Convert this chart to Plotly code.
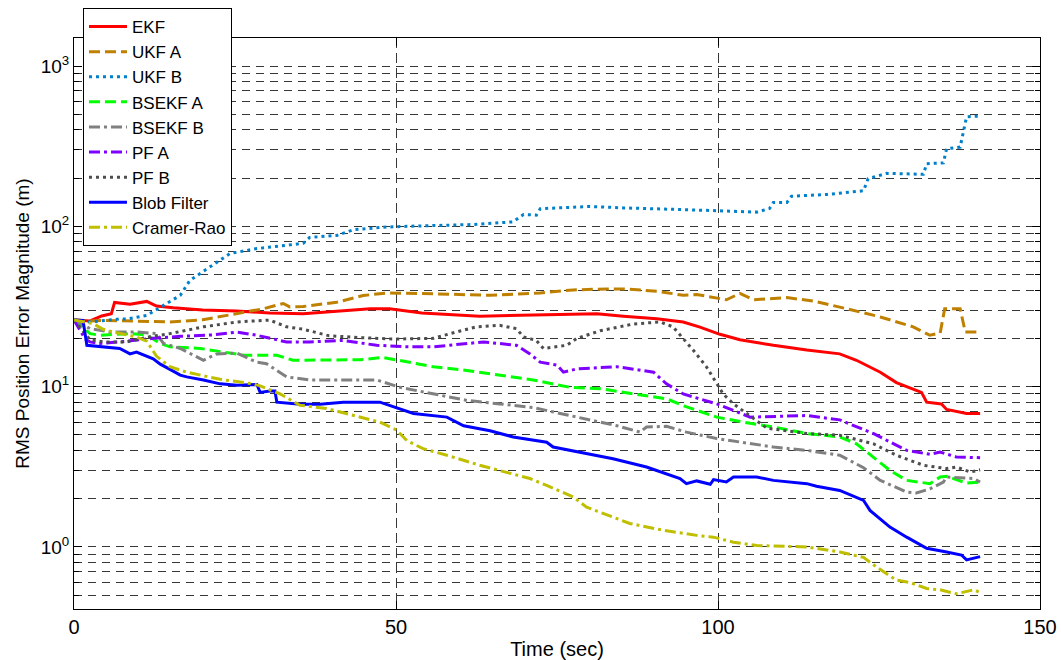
import plotly.graph_objects as go

# ---------------- data ----------------
ekf_x = [0, 2.5, 4.3, 5.8, 6.3, 8.7, 11.3, 12.8, 15.4, 20, 25.3, 30.4, 35.6, 40.8, 46, 49, 51, 54, 63, 69.7, 75, 81.2,
         85.3, 90.5, 94.6, 97.2, 100.3, 103.4, 108.6, 113.8, 118.9, 121.5, 125.2, 127.7, 131.6, 132.4, 134.7, 135.5,
         138.6, 140.7]
ekf_y = [26, 25.7, 27.6, 28.5, 33.5, 32.6, 34, 31.8, 31, 30.1, 29.6, 28.8, 28.5, 29.5, 30.6, 30.6, 29.8, 28.8, 27.5,
         27.8, 28.3, 28.5, 27.5, 26.5, 25.3, 23.5, 21.2, 19.6, 18.1, 16.9, 16.0, 14.6, 12.3, 10.6, 9.2, 8.0, 7.8, 7.2,
         6.8, 6.8]

ukfa_x = [0, 2.5, 4.5, 9.7, 14.9, 20, 25.3, 29.4, 32.5, 33.5, 35.6, 40.8, 44.9, 48.6, 54, 64.6, 72.4, 77.5, 82.8,
          85.3, 90.5, 94.6, 96.7, 99, 101.3, 103.4, 105.5, 110.7, 114.8, 120, 125.2, 130.3, 132.9, 134.5, 135.2, 137.6,
          138.4, 140.7]
ukfa_y = [26, 25.7, 25.9, 25.7, 25.3, 26.1, 28.5, 30.6, 33, 31.4, 31.6, 33.6, 37, 38.4, 38.1, 37.1, 38.4, 40.1, 40.7,
          40.7, 39.4, 37.1, 37.6, 36.2, 34.8, 38.1, 34.8, 35.9, 34.2, 30.6, 27.2, 23.6, 20.9, 21.6, 30.6, 30.6, 21.9,
          21.9]

ukfb_x = [0, 2.5, 7.1, 8.2, 11.3, 13.9, 16.5, 18, 21.1, 24.2, 28.4, 35.6, 36.6, 40.8, 43.4, 48.6, 51.7, 62, 68.2,
          69.8, 71.8, 72.4, 80.1, 85.3, 95.7, 99.8, 106, 108, 108.6, 110.7, 111.4, 116.9, 122.6, 123.3, 126.2, 131.9,
          132.4, 135, 135.5, 137.6, 138.1, 138.6, 140.7]
ukfb_y = [26, 25.3, 26.4, 26.4, 27.8, 32, 37.1, 46, 55.6, 67.6, 72.6, 78.3, 85.2, 87.7, 95.2, 99, 100, 102.6, 106.6,
          118.6, 117.4, 128.8, 133, 130.3, 126.7, 125, 122.6, 129, 141, 141, 154, 158, 166.6, 198, 214, 211, 246,
          248.6, 305, 312, 395, 482, 487]

bsekfa_x = [0, 2.5, 4, 8.7, 11.3, 13.4, 14.9, 19.6, 26.3, 31.5, 34, 44.4, 48, 52.2, 55.8, 61, 66.1, 71.3, 77, 81.7,
            86.9, 92, 94.6, 99.8, 105, 108.6, 113.8, 118.9, 121.5, 124.1, 126.7, 129.3, 132.9, 134.5, 135.5, 138.6,
            140.7]
bsekfa_y = [26, 21.4, 20.9, 21.4, 21, 18.6, 17.7, 17.3, 15.7, 15.7, 14.6, 14.7, 15.2, 14.2, 13.3, 12.6, 11.8, 11.0,
            9.9, 9.7, 9.0, 8.4, 7.6, 6.45, 5.9, 5.6, 5.1, 4.85, 4.4, 3.64, 3.0, 2.6, 2.48, 2.73, 2.76, 2.5, 2.54]

bsekfb_x = [0, 2.5, 5.6, 9.7, 12.8, 13.9, 16.5, 20.1, 22.2, 25.3, 28.4, 29.9, 33, 36.6, 41.8, 47, 50.6, 55.8, 61,
            66.1, 71.3, 75.5, 79.1, 84.3, 87.9, 88.9, 92, 95.1, 99.8, 105, 108.6, 113.8, 118.9, 122.6, 125.2, 129.3,
            130.8, 132.9, 135, 135.5, 139.7, 140.7]
bsekfb_y = [26, 23, 21.9, 21.9, 21.4, 18.6, 17.3, 14.6, 16, 16.2, 14.2, 13.9, 11.5, 11.0, 11.0, 11.0, 9.9, 9.0, 8.2,
            7.8, 7.4, 6.8, 6.3, 5.7, 5.2, 5.6, 5.65, 5.2, 4.74, 4.4, 4.2, 4.0, 3.73, 3.12, 2.6, 2.2, 2.17, 2.3, 2.54,
            2.73, 2.67, 2.54]

pfa_x = [0, 1.7, 2.5, 4, 7.1, 12.3, 16.5, 21.6, 25.3, 28.4, 33, 36.6, 41.8, 47, 52.2, 55.8, 63.6, 68.7, 70.8, 72.4,
         75, 76, 78.1, 84.3, 90, 92, 94.6, 99.8, 105, 113.8, 118.9, 124.1, 129.3, 132.9, 134.5, 137, 140.7]
pfa_y = [26, 19.9, 19, 18.6, 19, 20, 20.6, 21, 21.9, 20.9, 19, 19, 19.4, 18.1, 17.7, 17.7, 19, 18.1, 16, 14.2, 13.6,
         12.3, 12.9, 13.3, 12.3, 10.4, 9.0, 7.8, 6.45, 6.6, 6.2, 5.1, 4.0, 3.78, 3.9, 3.64, 3.6]

pfb_x = [0, 2.5, 4.5, 8.2, 11.3, 14.9, 20.1, 25.3, 29.4, 30.4, 33, 35.6, 39.5, 44.4, 49.6, 55.8, 58.4, 62.5, 66.1,
         68.7, 69.8, 71.8, 72.9, 76.5, 78.1, 81.7, 86.9, 91, 93, 94.6, 96.2, 98.2, 99.8, 100.8, 102.4, 104.5, 107.6,
         113.8, 118.9, 124.1, 127.7, 131.9, 135.5, 137, 139.2, 140.7]
pfb_y = [26, 19.6, 19, 19, 20.3, 21.4, 23.6, 25.3, 25.9, 26, 23.6, 22.8, 20.8, 20.2, 19.8, 20, 21.4, 23.6, 24.1, 23,
         20.4, 19.4, 17.3, 18.1, 20, 22.3, 24.6, 25.3, 23.6, 20, 16.8, 13.3, 10.4, 9.0, 7.8, 6.8, 5.5, 5.1, 4.97, 4.4,
         3.73, 3.23, 3.08, 3.15, 2.93, 3.03]

blob_x = [0, 1.4, 2, 4.5, 7.1, 8.7, 9.7, 12.3, 13.4, 14.9, 16.5, 17.5, 20.1, 22.7, 25.3, 28.4, 28.9, 30.4, 31.2, 31.5,
          35.1, 38.2, 41.8, 44.9, 47.5, 52.7, 57.9, 60.5, 64.6, 68.2, 73.4, 74.4, 78.6, 83.7, 88.9, 94.1, 95.1, 96.7,
          98.8, 99.3, 101.3, 102.4, 106, 108.6, 113.8, 115.3, 118.9, 122.6, 123.6, 126.7, 129.3, 132.4, 135.5, 137.8,
          138.6, 140.7]
blob_y = [26, 25.9, 18.1, 17.7, 17.3, 16.0, 16.4, 14.9, 13.8, 12.8, 11.8, 11.5, 11.0, 10.4, 10.2, 10.3, 9.2, 9.4, 9.4,
          8.0, 7.75, 7.75, 8.0, 8.0, 8.0, 6.8, 6.45, 5.7, 5.3, 4.85, 4.5, 4.2, 3.9, 3.55, 3.15, 2.67, 2.48, 2.58, 2.46,
          2.63, 2.54, 2.73, 2.73, 2.6, 2.48, 2.39, 2.25, 1.95, 1.69, 1.33, 1.15, 0.98, 0.93, 0.89, 0.83, 0.87]

crb_x = [0, 3, 4.5, 6.1, 9.7, 11.3, 12.8, 14.9, 17.5, 22.7, 27.8, 28.9, 32, 35.1, 39.2, 42.3, 44.4, 47.5, 50.1, 51.7,
         54.2, 57.9, 63, 67.2, 70.8, 73.4, 77.5, 79.6, 83.7, 86.3, 91.5, 96.7, 99.3, 102.4, 106, 113.8, 118.9, 122.6,
         124.6, 127.7, 129.8, 132.4, 134.5, 137, 139.7, 140.7]
crb_y = [26, 24.7, 22.8, 21.9, 20.4, 19.2, 15.5, 13.3, 12.3, 11.1, 10.4, 10.1, 9.0, 7.65, 7.3, 6.8, 6.45, 6.0, 5.35,
         4.6, 4.1, 3.73, 3.23, 2.93, 2.67, 2.42, 2.05, 1.77, 1.54, 1.4, 1.27, 1.18, 1.15, 1.07, 1.02, 1.0, 0.93, 0.86,
         0.75, 0.62, 0.6, 0.55, 0.54, 0.51, 0.54, 0.52]

series_names = ["EKF", "UKF A", "UKF B", "BSEKF A", "BSEKF B", "PF A", "PF B", "Blob Filter", "Cramer-Rao"]

x_ticks = [0, 50, 100, 150]
y_major = [1, 10, 100, 1000]
y_major_text = ["10<sup>0</sup>", "10<sup>1</sup>", "10<sup>2</sup>", "10<sup>3</sup>"]
y_minor = [0.5, 0.6, 0.7, 0.8, 0.9, 2, 3, 4, 5, 6, 7, 8, 9, 20, 30, 40, 50, 60, 70, 80, 90,
           200, 300, 400, 500, 600, 700, 800, 900]

x_title = "Time (sec)"
y_title = "RMS Position Error Magnitude (m)"

# ---------------- styles ----------------
DASH = "11px,5px"
DOT = "3px,4px"
DASHDOT = "11px,4px,3px,4px"
styles = [
    ("rgb(255,0,0)", "solid"),
    ("rgb(191,128,0)", DASH),
    ("rgb(0,128,204)", DOT),
    ("rgb(0,255,0)", DASH),
    ("rgb(128,128,128)", DASHDOT),
    ("rgb(127,0,255)", DASHDOT),
    ("rgb(77,77,77)", DOT),
    ("rgb(0,0,255)", "solid"),
    ("rgb(191,191,0)", DASHDOT),
]
data = [(ekf_x, ekf_y), (ukfa_x, ukfa_y), (ukfb_x, ukfb_y), (bsekfa_x, bsekfa_y), (bsekfb_x, bsekfb_y),
        (pfa_x, pfa_y), (pfb_x, pfb_y), (blob_x, blob_y), (crb_x, crb_y)]

FONT = "Liberation Sans, Arial, Helvetica, sans-serif"
GRID = "rgb(55,55,55)"

fig = go.Figure()
for name, (xs, ys), (col, dash) in zip(series_names, data, styles):
    fig.add_trace(go.Scatter(x=xs, y=ys, mode="lines", name=name,
                             line=dict(color=col, width=3, dash=dash)))

fig.update_layout(
    template="none",
    width=1061, height=660,
    margin=dict(l=74, r=21, t=38, b=51, autoexpand=False),
    paper_bgcolor="white", plot_bgcolor="white",
    font=dict(family=FONT, size=18, color="black"),
    showlegend=True,
    legend=dict(x=0.0093, y=1.0525, xanchor="left", yanchor="top",
                bgcolor="white", bordercolor="black", borderwidth=1,
                font=dict(family=FONT, size=17, color="black"),
                tracegroupgap=0, itemwidth=38),
    xaxis=dict(range=[0, 150], tickmode="array", tickvals=x_ticks, automargin=False,
               ticks="inside", ticklen=8, tickcolor="black",
               showline=True, linecolor="black", linewidth=1, mirror="allticks",
               showgrid=True, gridcolor=GRID, gridwidth=1, griddash="10px,5px",
               zeroline=False, tickfont=dict(family=FONT, size=20, color="black"),
               title=dict(text=x_title, font=dict(family=FONT, size=20), standoff=4)),
    yaxis=dict(type="log", range=[-0.3874, 3.1747], tickmode="array", tickvals=y_major,
               ticktext=y_major_text, automargin=False,
               ticks="inside", ticklen=8, tickcolor="black",
               showline=True, linecolor="black", linewidth=1, mirror="allticks",
               showgrid=True, gridcolor=GRID, gridwidth=1, griddash="8px,6px",
               zeroline=False, tickfont=dict(family=FONT, size=19, color="black"),
               minor=dict(tickmode="array", tickvals=y_minor, ticks="inside", ticklen=5,
                          tickcolor="black", showgrid=True, gridcolor=GRID, gridwidth=1,
                          griddash="8px,6px"),
               title=dict(text=y_title, font=dict(family=FONT, size=19), standoff=6)),
)

fig.write_html("out.html", config={"displayModeBar": False},
               post_script="document.body.style.margin='0';document.body.style.overflow='hidden';")
